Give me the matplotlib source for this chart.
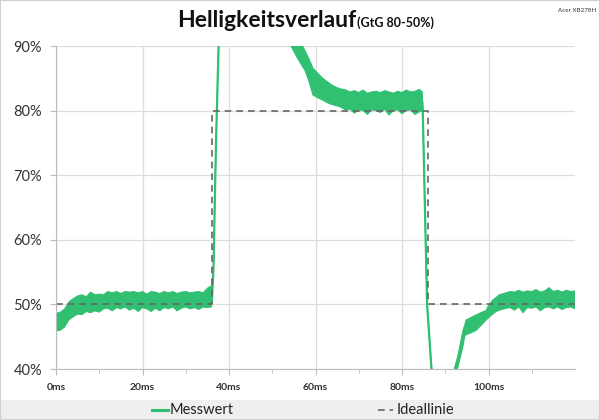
import numpy as np
import matplotlib
matplotlib.use("Agg")
import matplotlib.pyplot as plt
from matplotlib.patches import Rectangle
from matplotlib.lines import Line2D

plt.rcParams['font.family'] = ['Lato', 'DejaVu Sans']

# Messwert: envelope of the noisy measurement (time in ms, lower / upper edge in %)
t_ms = [0, 1, 2, 3, 4, 5, 6, 7, 8, 9, 10, 11, 12, 13, 14, 15, 16, 17, 18, 19,
        20, 21, 22, 23, 24, 25, 26, 27, 28, 29, 30, 31, 32, 33, 34, 35, 35.9,
        36.0, 36.4, 37.0, 37.6, 38.0, 53.5,
        54.4, 55.5, 57.0, 57.5, 58.5, 59.4, 60.5, 61.7, 62.5, 63.5, 64.5, 65.6, 67,
        68, 69, 70, 71, 72, 73, 74, 75, 76, 77, 78, 79, 80, 81, 82, 83, 84, 84.7,
        84.8, 85.8, 86.8, 87.5, 90.0, 91.5,
        92.1, 92.9, 94.1, 94.5, 94.8, 96, 97.2, 98.5, 99.5, 99.8, 101, 101.8, 102.5, 104.1,
        105, 106, 107, 108, 109, 110, 111, 112, 113, 114, 115, 116, 117, 118, 119, 120]
lower = [45.9, 46.0, 46.5, 47.6, 48.1, 48.5, 48.4, 48.9, 48.7, 49.0, 48.8, 49.3, 49.4, 49.0,
         49.5, 49.3, 49.6, 49.1, 49.4, 48.9, 49.5, 49.3, 48.9, 49.4, 49.0, 49.5, 49.3, 49.6,
         49.0, 49.4, 49.6, 49.3, 49.5, 49.2, 49.6, 49.5, 49.6,
         49.8, 54.8, 74.6, 89.6, 99.0, 93.0,
         89.9, 88.5, 86.8, 86.3, 84.5, 82.4, 82.0, 81.6, 81.3, 81.0, 80.8, 80.6, 80.1,
         80.2, 79.6, 80.1, 80.0, 79.4, 80.1, 80.0, 79.7, 80.2, 79.3, 80.0, 80.1, 79.5,
         80.0, 80.1, 79.4, 79.8, 79.9,
         79.6, 49.6, 39.8, 35.5, 32.0, 36.5,
         38.5, 40.2, 43.5, 45.0, 45.3, 45.6, 46.0, 46.9, 47.6, 47.8, 48.5, 48.9, 49.1, 49.4,
         49.5, 49.1, 49.6, 48.7, 49.5, 49.4, 49.6, 49.0, 49.5, 49.6, 49.3, 49.6, 49.2, 49.5,
         49.6, 49.3]
upper = [48.6, 48.8, 49.3, 50.4, 50.9, 51.3, 51.5, 51.2, 51.9, 51.5, 51.6, 51.5, 52.0, 51.8,
         52.0, 51.7, 52.0, 51.9, 52.0, 51.8, 52.0, 51.6, 52.0, 51.9, 51.7, 52.0, 51.8, 52.0,
         51.7, 51.9, 52.0, 51.8, 51.9, 52.0, 51.8, 52.5, 52.9,
         50.6, 55.8, 75.8, 90.6, 100.0, 96.0,
         92.5, 91.3, 90.0, 89.4, 88.0, 86.6, 85.8, 85.0, 84.6, 84.1, 83.7, 83.4, 83.2,
         82.9, 83.1, 82.8, 83.2, 82.7, 82.9, 83.0, 82.8, 83.1, 82.9, 82.7, 83.0, 82.8,
         83.2, 82.9, 83.0, 83.3, 82.9,
         80.4, 50.4, 40.6, 36.3, 33.0, 37.3,
         40.1, 42.0, 46.0, 46.8, 47.6, 48.0, 48.4, 48.8, 49.1, 49.6, 50.7, 51.1, 51.5, 51.8,
         52.0, 51.9, 52.2, 51.9, 52.1, 52.0, 52.3, 51.9, 52.1, 52.6, 52.0, 52.2, 51.9, 52.2,
         52.0, 52.1]

# Ideallinie
ideal_t = [0, 36, 36, 85.9, 85.9, 120]
ideal_v = [50, 50, 80, 80, 50, 50]

x_ticks = [0, 20, 40, 60, 80, 100]
x_labels = ['0ms', '20ms', '40ms', '60ms', '80ms', '100ms']
y_ticks = [40, 50, 60, 70, 80, 90]
y_labels = ['40%', '50%', '60%', '70%', '80%', '90%']

green = '#31c072'
gray_dash = '#666666'

fig = plt.figure(figsize=(6, 4.2), dpi=100)
ax = fig.add_axes([56 / 600, 1 - 369 / 420, (575 - 56) / 600, (369 - 46) / 420])

mid = [(a + b) / 2 for a, b in zip(lower, upper)]
ax.fill_between(t_ms, lower, upper, color=green, linewidth=0)
ax.plot(t_ms, lower, color=green, linewidth=0.7)
ax.plot(t_ms, upper, color=green, linewidth=0.7)
ax.plot(t_ms, mid, color=green, linewidth=1.6)
ax.plot(ideal_t, ideal_v, color=gray_dash, linewidth=1.2, dashes=(4, 3))

ax.set_xlim(0, 120)
ax.set_ylim(40, 90)
ax.set_xticks(x_ticks)
ax.set_xticklabels(x_labels, fontsize=7.5, fontweight='bold', color='#333333')
ax.set_xticks([10, 30, 50, 70, 90, 110], minor=True)
ax.set_yticks(y_ticks)
ax.set_yticklabels(y_labels, fontsize=10.5, color='#333333')
ax.grid(True, which='major', color='#dddddd', linewidth=0.9)
ax.set_axisbelow(True)
for s in ['top', 'right']:
    ax.spines[s].set_visible(False)
for s in ['left', 'bottom']:
    ax.spines[s].set_color('#bbbbbb')
ax.tick_params(axis='both', which='major', length=4, color='#bbbbbb', pad=6)
ax.tick_params(axis='x', which='minor', length=3, color='#bbbbbb')

# title
fig.text(356 / 600, 1 - 27 / 420, 'Helligkeitsverlauf', ha='right', va='baseline',
         fontsize=16.5, fontweight='bold', color='#111111')
fig.text(357 / 600, 1 - 27 / 420, '(GtG 80-50%)', ha='left', va='baseline',
         fontsize=9, fontweight='bold', color='#111111')
fig.text(596 / 600, 1 - 10 / 420, 'Acer XB278H', ha='right', va='center',
         fontsize=4.5, color='#333333')

# legend band
fig.patches.append(Rectangle((0, 0), 1, 20 / 420, transform=fig.transFigure,
                             facecolor='#efefef', edgecolor='none', zorder=0))
fig.lines.append(Line2D([152 / 600, 168 / 600], [10 / 420, 10 / 420], transform=fig.transFigure,
                        color=green, linewidth=2.2))
fig.text(170 / 600, 10 / 420, 'Messwert', ha='left', va='center', fontsize=10.5, color='#222222')
fig.lines.append(Line2D([378 / 600, 393 / 600], [10 / 420, 10 / 420], transform=fig.transFigure,
                        color=gray_dash, linewidth=1.2, dashes=(4, 3)))
fig.text(397 / 600, 10 / 420, 'Ideallinie', ha='left', va='center', fontsize=10.5, color='#222222')

# figure border
fig.patches.append(Rectangle((0, 0), 1, 1, transform=fig.transFigure, facecolor='none',
                             edgecolor='#d0d0d0', linewidth=1.5))

fig.savefig('out.png', dpi=100)
